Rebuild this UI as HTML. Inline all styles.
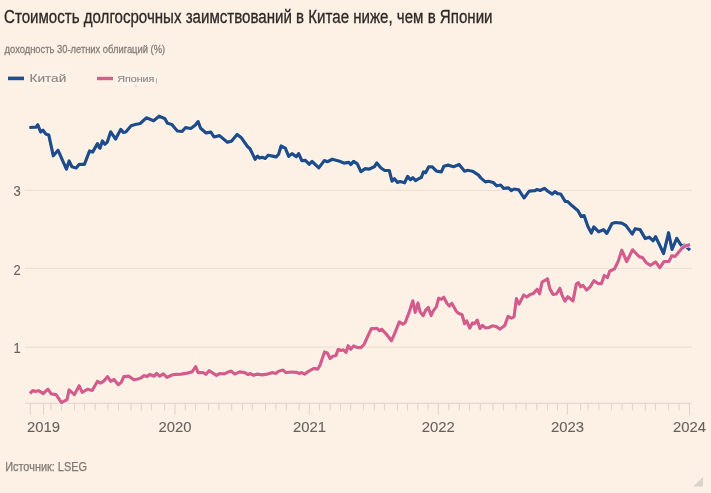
<!DOCTYPE html>
<html><head><meta charset="utf-8"><style>
html,body{margin:0;padding:0;}
body{width:711px;height:493px;background:#fdf0e5;position:relative;overflow:hidden;font-family:"Liberation Sans",sans-serif;}
svg{position:absolute;left:0;top:0;will-change:transform;}
text{font-family:"Liberation Sans",sans-serif;}
</style></head><body>
<svg width="711" height="493" viewBox="0 0 711 493">
<text x="4" y="22.6" font-size="18" textLength="488.5" lengthAdjust="spacingAndGlyphs" fill="#2b2826" stroke="#2b2826" stroke-width="0.3">Стоимость долгосрочных заимствований в Китае ниже, чем в Японии</text>
<text x="4.6" y="52.6" font-size="11.7" textLength="160.5" lengthAdjust="spacingAndGlyphs" fill="#827c77" stroke="#827c77" stroke-width="0.3">доходность 30-летних облигаций (%)</text>
<rect x="28.2" y="71.2" width="40.5" height="14.5" fill="#fdf3ea"/>
<rect x="116" y="72" width="40" height="14" fill="#fdf3ea"/>
<rect x="8" y="76.6" width="16" height="3.6" fill="#214e8c"/>
<text x="29.5" y="82.1" font-size="11.4" textLength="36.8" lengthAdjust="spacingAndGlyphs" fill="#89837e" stroke="#89837e" stroke-width="0.12">Китай</text>
<rect x="97" y="76.8" width="16" height="3.4" fill="#c9668a"/>
<text x="117.2" y="81.8" font-size="9.9" textLength="37.2" lengthAdjust="spacingAndGlyphs" fill="#89837e" stroke="#89837e" stroke-width="0.12">Япония</text>
<rect x="156" y="78.2" width="1" height="5.3" fill="#b9b2ab"/>
<rect x="135.5" y="85.5" width="1" height="1" fill="#a9a29b"/>
<g stroke="#e9ded3" stroke-width="1" fill="none">
<line x1="25" y1="190.3" x2="692" y2="190.3"/>
<line x1="25" y1="268.3" x2="692" y2="268.3"/>
<line x1="25" y1="347.2" x2="692" y2="347.2"/>
</g>
<g stroke="#ddd3c9" stroke-width="1" fill="none">
<line x1="25" y1="403.2" x2="691.5" y2="403.2"/>
<line x1="30.3" y1="403" x2="30.3" y2="414.5"/><line x1="43.5" y1="403" x2="43.5" y2="414.5"/><line x1="50.9" y1="403" x2="50.9" y2="410.5"/><line x1="61.4" y1="403" x2="61.4" y2="410.5"/><line x1="74.4" y1="403" x2="74.4" y2="410.5"/><line x1="84.4" y1="403" x2="84.4" y2="410.5"/><line x1="95.2" y1="403" x2="95.2" y2="410.5"/><line x1="107.8" y1="403" x2="107.8" y2="410.5"/><line x1="118.5" y1="403" x2="118.5" y2="410.5"/><line x1="131.1" y1="403" x2="131.1" y2="410.5"/><line x1="141.3" y1="403" x2="141.3" y2="410.5"/><line x1="151.4" y1="403" x2="151.4" y2="410.5"/><line x1="164.6" y1="403" x2="164.6" y2="410.5"/><line x1="175" y1="403" x2="175" y2="414.5"/><line x1="185.3" y1="403" x2="185.3" y2="410.5"/><line x1="195.5" y1="403" x2="195.5" y2="410.5"/><line x1="208.5" y1="403" x2="208.5" y2="410.5"/><line x1="218.9" y1="403" x2="218.9" y2="410.5"/><line x1="231.7" y1="403" x2="231.7" y2="410.5"/><line x1="242.5" y1="403" x2="242.5" y2="410.5"/><line x1="252.3" y1="403" x2="252.3" y2="410.5"/><line x1="265.5" y1="403" x2="265.5" y2="410.5"/><line x1="275.8" y1="403" x2="275.8" y2="410.5"/><line x1="286.3" y1="403" x2="286.3" y2="410.5"/><line x1="299.2" y1="403" x2="299.2" y2="410.5"/><line x1="309.4" y1="403" x2="309.4" y2="414.5"/><line x1="319.5" y1="403" x2="319.5" y2="410.5"/><line x1="330.2" y1="403" x2="330.2" y2="410.5"/><line x1="340.5" y1="403" x2="340.5" y2="410.5"/><line x1="350.7" y1="403" x2="350.7" y2="410.5"/><line x1="363.6" y1="403" x2="363.6" y2="410.5"/><line x1="374.3" y1="403" x2="374.3" y2="410.5"/><line x1="384.4" y1="403" x2="384.4" y2="410.5"/><line x1="397.4" y1="403" x2="397.4" y2="410.5"/><line x1="407.5" y1="403" x2="407.5" y2="410.5"/><line x1="417.8" y1="403" x2="417.8" y2="410.5"/><line x1="428.2" y1="403" x2="428.2" y2="410.5"/><line x1="438.3" y1="403" x2="438.3" y2="414.5"/><line x1="448.8" y1="403" x2="448.8" y2="410.5"/><line x1="459.3" y1="403" x2="459.3" y2="410.5"/><line x1="469.4" y1="403" x2="469.4" y2="410.5"/><line x1="480.3" y1="403" x2="480.3" y2="410.5"/><line x1="492.9" y1="403" x2="492.9" y2="410.5"/><line x1="503.4" y1="403" x2="503.4" y2="410.5"/><line x1="516.2" y1="403" x2="516.2" y2="410.5"/><line x1="526.1" y1="403" x2="526.1" y2="410.5"/><line x1="536.8" y1="403" x2="536.8" y2="410.5"/><line x1="547.5" y1="403" x2="547.5" y2="410.5"/><line x1="557.5" y1="403" x2="557.5" y2="410.5"/><line x1="567.4" y1="403" x2="567.4" y2="414.5"/><line x1="580.6" y1="403" x2="580.6" y2="410.5"/><line x1="588.2" y1="403" x2="588.2" y2="410.5"/><line x1="598.9" y1="403" x2="598.9" y2="410.5"/><line x1="611.6" y1="403" x2="611.6" y2="410.5"/><line x1="622" y1="403" x2="622" y2="410.5"/><line x1="632.4" y1="403" x2="632.4" y2="410.5"/><line x1="645.3" y1="403" x2="645.3" y2="410.5"/><line x1="655.4" y1="403" x2="655.4" y2="410.5"/><line x1="668.4" y1="403" x2="668.4" y2="410.5"/><line x1="679" y1="403" x2="679" y2="410.5"/><line x1="689.5" y1="403" x2="689.5" y2="414.5"/>
</g>
<g font-size="14" fill="#66605c" stroke="#66605c" stroke-width="0.08">
<text x="13.4" y="195.7" textLength="7.2" lengthAdjust="spacingAndGlyphs">3</text>
<text x="13.4" y="274.6" textLength="7.2" lengthAdjust="spacingAndGlyphs">2</text>
<text x="13.4" y="352.9" textLength="7.2" lengthAdjust="spacingAndGlyphs">1</text>
</g>
<g font-size="14" fill="#66605c" stroke="#66605c" stroke-width="0.08">
<text x="27.0" y="431.5" textLength="33" lengthAdjust="spacingAndGlyphs">2019</text><text x="158.5" y="431.5" textLength="33" lengthAdjust="spacingAndGlyphs">2020</text><text x="292.9" y="431.5" textLength="33" lengthAdjust="spacingAndGlyphs">2021</text><text x="421.8" y="431.5" textLength="33" lengthAdjust="spacingAndGlyphs">2022</text><text x="550.9" y="431.5" textLength="33" lengthAdjust="spacingAndGlyphs">2023</text><text x="673.0" y="431.5" textLength="33" lengthAdjust="spacingAndGlyphs">2024</text>
</g>
<path d="M29.3,127.5 L36.0,127.2 L37.8,124.7 L40.6,132.0 L43.0,130.2 L45.7,133.9 L48.8,135.1 L53.3,155.8 L58.1,150.3 L66.4,169.2 L69.1,161.0 L71.9,166.8 L76.2,168.0 L79.2,164.3 L84.4,164.3 L89.6,150.9 L92.6,152.1 L97.5,143.6 L99.5,147.9 L100.0,148.2 L102.4,140.9 L104.9,144.2 L107.3,142.1 L110.7,131.8 L115.6,139.1 L120.7,129.4 L123.4,132.4 L125.8,132.0 L131.1,125.7 L135.3,124.5 L140.2,123.5 L146.3,117.8 L153.6,120.8 L159.1,116.2 L164.6,118.4 L167.6,123.3 L171.9,124.5 L175.0,128.3 L177.4,131.0 L182.3,131.3 L185.4,127.7 L190.8,128.5 L195.1,125.2 L198.1,121.6 L200.6,128.3 L206.1,132.9 L210.9,132.2 L214.0,137.0 L219.5,135.6 L227.4,142.3 L231.6,141.1 L237.1,134.4 L241.4,137.8 L247.5,146.5 L250.0,148.8 L252.4,153.6 L255.1,159.3 L257.6,156.1 L259.7,158.1 L262.2,157.3 L265.2,158.5 L268.3,155.2 L272.5,156.1 L276.2,156.9 L278.6,154.2 L281.1,146.0 L285.3,148.1 L288.7,156.4 L292.0,153.6 L296.3,156.7 L298.7,153.6 L301.8,160.6 L305.4,160.3 L309.1,164.2 L312.1,161.5 L318.8,167.9 L324.3,160.6 L327.4,161.7 L332.3,159.2 L339.6,161.3 L343.9,163.1 L348.8,162.3 L350.8,164.6 L353.6,161.3 L357.3,163.8 L360.9,171.7 L365.2,168.6 L368.8,169.2 L374.3,166.8 L376.8,162.9 L381.0,168.0 L384.7,170.5 L389.3,170.5 L392.0,181.2 L394.4,178.7 L397.5,182.4 L400.0,181.5 L404.6,182.8 L407.6,176.4 L410.4,179.7 L412.8,177.6 L415.6,180.6 L418.9,178.5 L421.3,177.6 L423.4,171.8 L425.6,172.8 L428.6,166.9 L432.3,166.9 L436.5,171.2 L441.4,171.8 L443.8,166.3 L448.1,165.1 L453.6,166.7 L459.1,164.5 L464.6,171.2 L467.6,170.3 L472.5,171.2 L476.3,173.6 L478.3,174.9 L481.0,178.1 L485.4,181.9 L488.4,181.3 L493.3,182.5 L496.7,185.8 L500.6,185.0 L503.6,188.3 L508.5,187.8 L511.3,190.7 L514.0,189.0 L518.8,189.8 L524.0,198.0 L529.2,191.1 L534.7,190.7 L537.1,189.5 L540.2,190.5 L544.4,188.3 L548.1,191.4 L552.3,194.1 L554.9,191.6 L557.6,193.6 L560.7,194.0 L565.2,201.3 L567.7,201.7 L571.9,205.6 L578.0,210.7 L581.1,216.5 L584.1,215.6 L587.8,226.3 L591.4,233.0 L593.8,226.9 L598.7,231.8 L603.5,229.6 L606.8,233.4 L612.0,223.5 L615.5,222.5 L621.8,223.1 L626.0,225.6 L632.3,234.1 L635.2,228.7 L640.1,229.6 L645.3,238.6 L649.2,237.2 L653.2,240.8 L655.6,236.6 L663.6,253.5 L668.6,232.7 L672.0,249.5 L676.7,238.3 L681.6,246.0 L684.4,245.0 L690.0,250.2" stroke="#fffaf4" stroke-width="4.8" fill="none" stroke-linejoin="round" opacity="0.8"/>
<path d="M29.3,127.5 L36.0,127.2 L37.8,124.7 L40.6,132.0 L43.0,130.2 L45.7,133.9 L48.8,135.1 L53.3,155.8 L58.1,150.3 L66.4,169.2 L69.1,161.0 L71.9,166.8 L76.2,168.0 L79.2,164.3 L84.4,164.3 L89.6,150.9 L92.6,152.1 L97.5,143.6 L99.5,147.9 L100.0,148.2 L102.4,140.9 L104.9,144.2 L107.3,142.1 L110.7,131.8 L115.6,139.1 L120.7,129.4 L123.4,132.4 L125.8,132.0 L131.1,125.7 L135.3,124.5 L140.2,123.5 L146.3,117.8 L153.6,120.8 L159.1,116.2 L164.6,118.4 L167.6,123.3 L171.9,124.5 L175.0,128.3 L177.4,131.0 L182.3,131.3 L185.4,127.7 L190.8,128.5 L195.1,125.2 L198.1,121.6 L200.6,128.3 L206.1,132.9 L210.9,132.2 L214.0,137.0 L219.5,135.6 L227.4,142.3 L231.6,141.1 L237.1,134.4 L241.4,137.8 L247.5,146.5 L250.0,148.8 L252.4,153.6 L255.1,159.3 L257.6,156.1 L259.7,158.1 L262.2,157.3 L265.2,158.5 L268.3,155.2 L272.5,156.1 L276.2,156.9 L278.6,154.2 L281.1,146.0 L285.3,148.1 L288.7,156.4 L292.0,153.6 L296.3,156.7 L298.7,153.6 L301.8,160.6 L305.4,160.3 L309.1,164.2 L312.1,161.5 L318.8,167.9 L324.3,160.6 L327.4,161.7 L332.3,159.2 L339.6,161.3 L343.9,163.1 L348.8,162.3 L350.8,164.6 L353.6,161.3 L357.3,163.8 L360.9,171.7 L365.2,168.6 L368.8,169.2 L374.3,166.8 L376.8,162.9 L381.0,168.0 L384.7,170.5 L389.3,170.5 L392.0,181.2 L394.4,178.7 L397.5,182.4 L400.0,181.5 L404.6,182.8 L407.6,176.4 L410.4,179.7 L412.8,177.6 L415.6,180.6 L418.9,178.5 L421.3,177.6 L423.4,171.8 L425.6,172.8 L428.6,166.9 L432.3,166.9 L436.5,171.2 L441.4,171.8 L443.8,166.3 L448.1,165.1 L453.6,166.7 L459.1,164.5 L464.6,171.2 L467.6,170.3 L472.5,171.2 L476.3,173.6 L478.3,174.9 L481.0,178.1 L485.4,181.9 L488.4,181.3 L493.3,182.5 L496.7,185.8 L500.6,185.0 L503.6,188.3 L508.5,187.8 L511.3,190.7 L514.0,189.0 L518.8,189.8 L524.0,198.0 L529.2,191.1 L534.7,190.7 L537.1,189.5 L540.2,190.5 L544.4,188.3 L548.1,191.4 L552.3,194.1 L554.9,191.6 L557.6,193.6 L560.7,194.0 L565.2,201.3 L567.7,201.7 L571.9,205.6 L578.0,210.7 L581.1,216.5 L584.1,215.6 L587.8,226.3 L591.4,233.0 L593.8,226.9 L598.7,231.8 L603.5,229.6 L606.8,233.4 L612.0,223.5 L615.5,222.5 L621.8,223.1 L626.0,225.6 L632.3,234.1 L635.2,228.7 L640.1,229.6 L645.3,238.6 L649.2,237.2 L653.2,240.8 L655.6,236.6 L663.6,253.5 L668.6,232.7 L672.0,249.5 L676.7,238.3 L681.6,246.0 L684.4,245.0 L690.0,250.2" stroke="#1e4c8a" stroke-width="3.2" fill="none" stroke-linejoin="round" stroke-linecap="butt"/>
<path d="M29.9,393.5 L32.9,390.5 L35.4,391.4 L38.4,390.7 L43.3,393.5 L47.9,389.2 L51.2,393.9 L56.1,394.7 L61.5,402.6 L67.0,399.6 L69.1,389.8 L74.3,394.7 L79.2,385.8 L82.2,392.3 L87.7,389.2 L92.2,390.5 L97.5,381.3 L100.5,383.1 L103.7,381.1 L107.6,376.6 L110.7,381.4 L114.0,379.5 L118.3,384.7 L121.3,382.3 L123.8,376.6 L128.6,376.2 L134.1,379.8 L137.8,379.0 L141.4,377.8 L143.8,375.6 L146.9,376.6 L149.9,374.4 L154.2,376.2 L156.6,373.4 L159.7,376.2 L163.3,373.8 L167.0,377.4 L171.9,375.0 L175.5,374.4 L181.1,374.1 L187.2,373.1 L192.1,371.9 L195.7,366.6 L198.1,372.6 L203.0,372.6 L206.1,374.3 L209.1,370.7 L216.4,375.3 L220.1,373.5 L224.3,373.9 L227.4,372.3 L231.3,371.1 L234.7,374.1 L239.6,371.9 L245.0,372.6 L248.1,374.7 L249.9,373.5 L253.7,375.3 L257.3,374.1 L262.2,374.8 L268.3,373.8 L272.5,372.6 L275.6,373.6 L278.6,371.2 L282.9,370.0 L285.9,372.6 L291.4,372.0 L296.9,372.4 L299.3,373.6 L301.8,372.6 L304.6,374.1 L308.5,371.4 L313.9,368.4 L317.6,369.2 L320.0,365.3 L324.5,351.9 L327.4,353.0 L330.1,358.5 L332.9,356.3 L336.0,355.4 L338.2,349.3 L340.8,350.5 L343.3,349.9 L346.0,352.4 L348.1,345.7 L350.8,349.3 L353.6,346.0 L357.3,347.5 L360.9,347.7 L364.0,344.5 L371.3,328.6 L376.8,328.3 L379.6,330.7 L381.6,329.2 L386.5,334.3 L391.4,340.8 L394.4,334.1 L399.3,321.9 L402.7,324.2 L405.1,322.8 L409.1,312.4 L412.8,300.8 L415.2,312.4 L418.0,303.0 L420.1,311.8 L423.1,315.7 L425.8,310.0 L428.3,307.5 L431.1,315.5 L433.5,310.6 L436.3,306.9 L438.7,298.2 L441.4,299.4 L443.8,297.2 L446.9,303.3 L449.3,306.0 L451.8,303.3 L456.0,310.8 L458.5,313.3 L462.1,314.8 L464.6,323.7 L466.7,320.9 L469.7,328.2 L472.5,323.0 L474.5,323.7 L477.3,320.1 L479.9,328.5 L482.6,325.4 L485.4,327.9 L489.0,327.5 L492.7,325.8 L496.3,326.6 L500.0,329.1 L504.8,325.4 L508.1,316.3 L511.5,318.1 L514.0,316.9 L516.4,298.6 L519.1,304.1 L523.7,295.0 L526.8,297.0 L530.4,294.4 L533.5,293.4 L537.1,289.2 L539.6,293.8 L542.0,282.2 L547.5,278.8 L549.9,288.9 L553.0,294.4 L556.4,294.0 L559.9,288.3 L562.1,295.4 L564.9,301.0 L567.8,296.8 L573.0,301.0 L576.3,284.0 L578.4,282.6 L580.5,286.8 L583.0,285.4 L586.6,290.1 L590.1,286.8 L594.0,280.7 L597.6,283.3 L601.4,283.6 L604.3,275.5 L607.5,277.6 L609.7,271.2 L614.6,268.8 L618.2,261.3 L621.8,250.2 L626.7,261.5 L632.6,249.8 L639.4,256.8 L642.2,257.3 L646.4,262.9 L650.6,265.3 L655.6,261.9 L659.8,267.8 L664.0,261.5 L668.9,261.5 L671.7,255.9 L675.2,256.3 L681.6,248.8 L685.1,246.0 L690.0,244.6" stroke="#fffaf4" stroke-width="4.8" fill="none" stroke-linejoin="round" opacity="0.8"/>
<path d="M29.9,393.5 L32.9,390.5 L35.4,391.4 L38.4,390.7 L43.3,393.5 L47.9,389.2 L51.2,393.9 L56.1,394.7 L61.5,402.6 L67.0,399.6 L69.1,389.8 L74.3,394.7 L79.2,385.8 L82.2,392.3 L87.7,389.2 L92.2,390.5 L97.5,381.3 L100.5,383.1 L103.7,381.1 L107.6,376.6 L110.7,381.4 L114.0,379.5 L118.3,384.7 L121.3,382.3 L123.8,376.6 L128.6,376.2 L134.1,379.8 L137.8,379.0 L141.4,377.8 L143.8,375.6 L146.9,376.6 L149.9,374.4 L154.2,376.2 L156.6,373.4 L159.7,376.2 L163.3,373.8 L167.0,377.4 L171.9,375.0 L175.5,374.4 L181.1,374.1 L187.2,373.1 L192.1,371.9 L195.7,366.6 L198.1,372.6 L203.0,372.6 L206.1,374.3 L209.1,370.7 L216.4,375.3 L220.1,373.5 L224.3,373.9 L227.4,372.3 L231.3,371.1 L234.7,374.1 L239.6,371.9 L245.0,372.6 L248.1,374.7 L249.9,373.5 L253.7,375.3 L257.3,374.1 L262.2,374.8 L268.3,373.8 L272.5,372.6 L275.6,373.6 L278.6,371.2 L282.9,370.0 L285.9,372.6 L291.4,372.0 L296.9,372.4 L299.3,373.6 L301.8,372.6 L304.6,374.1 L308.5,371.4 L313.9,368.4 L317.6,369.2 L320.0,365.3 L324.5,351.9 L327.4,353.0 L330.1,358.5 L332.9,356.3 L336.0,355.4 L338.2,349.3 L340.8,350.5 L343.3,349.9 L346.0,352.4 L348.1,345.7 L350.8,349.3 L353.6,346.0 L357.3,347.5 L360.9,347.7 L364.0,344.5 L371.3,328.6 L376.8,328.3 L379.6,330.7 L381.6,329.2 L386.5,334.3 L391.4,340.8 L394.4,334.1 L399.3,321.9 L402.7,324.2 L405.1,322.8 L409.1,312.4 L412.8,300.8 L415.2,312.4 L418.0,303.0 L420.1,311.8 L423.1,315.7 L425.8,310.0 L428.3,307.5 L431.1,315.5 L433.5,310.6 L436.3,306.9 L438.7,298.2 L441.4,299.4 L443.8,297.2 L446.9,303.3 L449.3,306.0 L451.8,303.3 L456.0,310.8 L458.5,313.3 L462.1,314.8 L464.6,323.7 L466.7,320.9 L469.7,328.2 L472.5,323.0 L474.5,323.7 L477.3,320.1 L479.9,328.5 L482.6,325.4 L485.4,327.9 L489.0,327.5 L492.7,325.8 L496.3,326.6 L500.0,329.1 L504.8,325.4 L508.1,316.3 L511.5,318.1 L514.0,316.9 L516.4,298.6 L519.1,304.1 L523.7,295.0 L526.8,297.0 L530.4,294.4 L533.5,293.4 L537.1,289.2 L539.6,293.8 L542.0,282.2 L547.5,278.8 L549.9,288.9 L553.0,294.4 L556.4,294.0 L559.9,288.3 L562.1,295.4 L564.9,301.0 L567.8,296.8 L573.0,301.0 L576.3,284.0 L578.4,282.6 L580.5,286.8 L583.0,285.4 L586.6,290.1 L590.1,286.8 L594.0,280.7 L597.6,283.3 L601.4,283.6 L604.3,275.5 L607.5,277.6 L609.7,271.2 L614.6,268.8 L618.2,261.3 L621.8,250.2 L626.7,261.5 L632.6,249.8 L639.4,256.8 L642.2,257.3 L646.4,262.9 L650.6,265.3 L655.6,261.9 L659.8,267.8 L664.0,261.5 L668.9,261.5 L671.7,255.9 L675.2,256.3 L681.6,248.8 L685.1,246.0 L690.0,244.6" stroke="#d45c8b" stroke-width="3.2" fill="none" stroke-linejoin="round" stroke-linecap="butt"/>
<polygon points="703,476.9 693.1,486.6 703,486.6" fill="#dad3cc"/>
<text x="5.2" y="470.8" font-size="13.4" textLength="81.8" lengthAdjust="spacingAndGlyphs" fill="#7d7873" stroke="#7d7873" stroke-width="0.25">Источник: LSEG</text>
</svg>
</body></html>
